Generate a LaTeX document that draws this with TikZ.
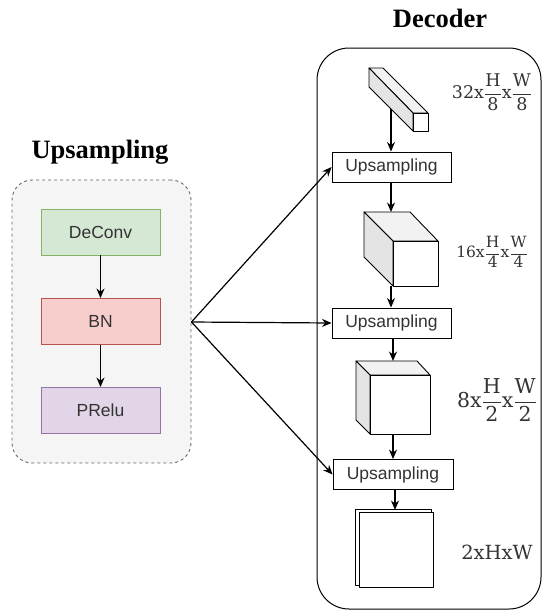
\documentclass[tikz,border=0pt]{standalone}
\usepackage{fontspec}
\usetikzlibrary{arrows.meta}
\newfontfamily\boxsans{Liberation Sans}
\newfontfamily\titleserif{Liberation Serif}
\newfontfamily\labserif{DejaVu Serif}
\setmathrm{DejaVu Serif}
\definecolor{txtgray}{HTML}{333333}
\definecolor{contfill}{HTML}{F5F5F5}
\definecolor{contdraw}{HTML}{666666}
\definecolor{gfill}{HTML}{D5E8D4}\definecolor{gdraw}{HTML}{82B366}
\definecolor{rfill}{HTML}{F8CECC}\definecolor{rdraw}{HTML}{B85450}
\definecolor{pfill}{HTML}{E1D5E7}\definecolor{pdraw}{HTML}{9673A6}
\definecolor{topface}{HTML}{F2F2F2}
\definecolor{sideface}{HTML}{E4E4E4}
\tikzset{
  layerbox/.style={draw=#1, line width=0.9pt, minimum width=119pt, minimum height=46pt,
    inner sep=0pt, font=\boxsans\fontsize{17.5}{20}\selectfont, text=txtgray},
  upbox/.style={draw=black, line width=0.9pt, fill=white, minimum width=119pt, minimum height=30pt,
    inner sep=0pt, font=\boxsans\fontsize{17.5}{20}\selectfont, text=txtgray},
  conn/.style={line width=1.2pt, -{Stealth[length=9.5pt,width=8pt]}},
  title/.style={font=\titleserif\bfseries\fontsize{26.5}{30}\selectfont},
  cubeline/.style={draw=black, line width=0.9pt, line join=round},
  dimlab/.style={text=txtgray, inner sep=0pt},
}
\begin{document}
\begin{tikzpicture}[x=1pt,y=-1pt]
\useasboundingbox (0,0) rectangle (543,611);
% containers
\node[draw=contdraw, fill=contfill, dashed, rounded corners=20pt, line width=0.9pt,
  minimum width=179pt, minimum height=283pt, inner sep=0pt] (up) at (101.5,321.5) {};
\node[draw=black, rounded corners=32pt, line width=1pt,
  minimum width=224pt, minimum height=561pt, inner sep=0pt] (dec) at (429,328.5) {};
% titles
\node[title] (t1) at (100,152) {Upsampling};
\node[title] (t2) at (440,18) {Decoder};
% layer boxes
\node[layerbox=gdraw, fill=gfill] (deconv) at (100.5,232) {DeConv};
\node[layerbox=rdraw, fill=rfill] (bn) at (100.5,321.5) {BN};
\node[layerbox=pdraw, fill=pfill] (prelu) at (100.5,410.5) {PRelu};
\draw[conn] (deconv) -- (bn);
\draw[conn] (bn) -- (prelu);
% upsampling boxes in decoder
\node[upbox] (u1) at (391.5,167) {Upsampling};
\node[upbox] (u2) at (391.5,323) {Upsampling};
\node[upbox, minimum width=120pt] (u3) at (393,474.5) {Upsampling};
% bar (32 channels)
\path[cubeline, fill=topface] (369,68) -- (383,68) -- (428,113) -- (413,113) -- cycle;
\path[cubeline, fill=sideface] (369,68) -- (413,113) -- (413,131) -- (369,87) -- cycle;
\path[cubeline, fill=white] (413,113) rectangle (428,131);
% cube 2
\path[cubeline, fill=topface] (364,212) -- (410,212) -- (438,241) -- (393,241) -- cycle;
\path[cubeline, fill=sideface] (364,212) -- (393,241) -- (393,286) -- (364,257) -- cycle;
\path[cubeline, fill=white] (393,241) rectangle (438,286);
% cube 3
\path[cubeline, fill=topface] (356,361) -- (417,361) -- (430,375) -- (370,375) -- cycle;
\path[cubeline, fill=sideface] (356,361) -- (370,375) -- (370,434) -- (356,420) -- cycle;
\path[cubeline, fill=white] (370,375) rectangle (430,434);
% stacked maps
\path[cubeline, fill=white] (355,509) rectangle (431,585);
\path[cubeline, fill=white] (359,512) rectangle (433,587);
% anchor coordinates
\coordinate (barb) at (391,109);
\coordinate (c2t) at (391,212);
\coordinate (c2b) at (391,286);
\coordinate (c3t) at (393,361);
\coordinate (c3b) at (393,434);
\coordinate (c4t) at (395,510);
% vertical flow
\draw[conn] (barb) -- (barb |- u1.north);
\draw[conn] (u1.south -| c2t) -- (c2t);
\draw[conn] (c2b) -- (c2b |- u2.north);
\draw[conn] (u2.south -| c3t) -- (c3t);
\draw[conn] (c3b) -- (c3b |- u3.north);
\draw[conn] (u3.south -| c4t) -- (c4t);
% fan-out from upsampling block
\coordinate (fan) at (190,322);
\draw[conn] (up.east |- fan) -- (u1.west);
\draw[conn] (up.east |- fan) -- (u2.west);
\draw[conn] (up.east |- fan) -- (u3.west);
% dimension labels
\node[dimlab, font=\fontsize{17.5}{20}\selectfont] (l1) at (492,92)
  {$\displaystyle \mathrm{32x}\frac{\mathrm{H}}{\mathrm{8}}\mathrm{x}\frac{\mathrm{W}}{\mathrm{8}}$};
\node[dimlab, font=\fontsize{15.5}{18}\selectfont] (l2) at (492,252)
  {$\displaystyle \mathrm{16x}\frac{\mathrm{H}}{\mathrm{4}}\mathrm{x}\frac{\mathrm{W}}{\mathrm{4}}$};
\node[dimlab, font=\fontsize{20.5}{24}\selectfont] (l3) at (497,400)
  {$\displaystyle \mathrm{8x}\frac{\mathrm{H}}{\mathrm{2}}\mathrm{x}\frac{\mathrm{W}}{\mathrm{2}}$};
\node[dimlab, font=\labserif\fontsize{19.5}{22}\selectfont] (l4) at (497,552) {2xHxW};
\end{tikzpicture}
\end{document}
